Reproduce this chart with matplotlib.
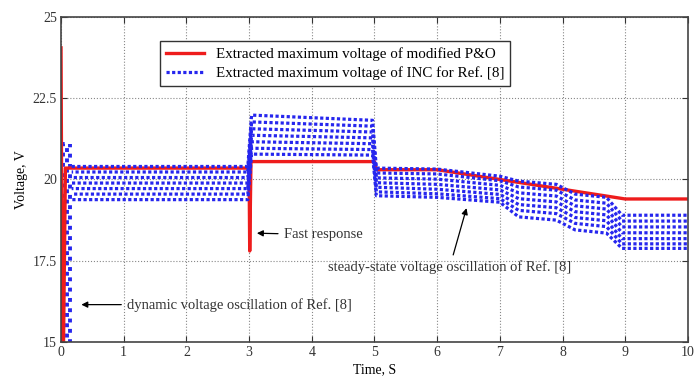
#!/usr/bin/env python3
"""Extracted maximum voltage: modified P&O against INC (Ref. [8])."""

import matplotlib
matplotlib.use("Agg")
import matplotlib.pyplot as plt

# modified P&O trace (time s, voltage V)
po_t = [0.0, 0.02, 0.04, 0.07, 3.0, 3.01, 3.03, 5.0, 5.03, 6.0, 9.0, 10.0]
po_v = [24.05, 15.0, 15.0, 20.35, 20.35, 17.8, 20.55, 20.55, 20.3, 20.3, 19.4, 19.4]

# INC start-up oscillation column
inc_start_t = [0.03, 0.03, 0.09, 0.09, 0.15, 0.15]
inc_start_v = [15.0, 21.1, 21.1, 15.0, 15.0, 21.1]

# INC oscillation envelope: parallel traces through the same time breakpoints
inc_t = [0.17, 2.98, 3.04, 4.97, 5.03, 6.0, 7.0, 7.3, 7.9, 8.2, 8.7, 8.95, 10.0]
inc_traces = [
    [20.40, 20.40, 21.98, 21.82, 20.35, 20.32, 20.10, 19.95, 19.85, 19.55, 19.45, 18.90, 18.90],
    [20.23, 20.23, 21.77, 21.64, 20.20, 20.17, 19.96, 19.77, 19.67, 19.37, 19.27, 18.72, 18.72],
    [20.06, 20.06, 21.56, 21.46, 20.05, 20.01, 19.82, 19.59, 19.49, 19.19, 19.09, 18.54, 18.54],
    [19.89, 19.89, 21.36, 21.28, 19.90, 19.85, 19.68, 19.41, 19.31, 19.01, 18.91, 18.36, 18.36],
    [19.72, 19.72, 21.16, 21.10, 19.76, 19.70, 19.54, 19.23, 19.13, 18.83, 18.73, 18.18, 18.18],
    [19.55, 19.55, 20.96, 20.92, 19.62, 19.56, 19.41, 19.05, 18.95, 18.65, 18.55, 18.02, 18.02],
    [19.38, 19.38, 20.78, 20.75, 19.50, 19.45, 19.30, 18.85, 18.75, 18.45, 18.35, 17.88, 17.88],
]

x_ticks = list(range(0, 11))
y_ticks = [15, 17.5, 20, 22.5, 25]
y_tick_labels = ["15", "17.5", "20", "22.5", "25"]

po_label = "Extracted maximum voltage of modified P&O"
inc_label = "Extracted maximum voltage of INC for Ref. [8]"

plt.rcParams["font.family"] = ["Liberation Serif", "DejaVu Serif"]
plt.rcParams["font.size"] = 10

fig = plt.figure(figsize=(6.95, 3.78), dpi=100)
ax = fig.add_axes([0.0878, 0.0952, 0.902, 0.86])

blue = "#2626ee"
red = "#ee1c1c"

ax.plot(inc_start_t, inc_start_v, color=blue, linestyle=":", linewidth=2.8)
for k, trace in enumerate(inc_traces):
    # stagger the dash phase so the dots do not stack into columns
    ax.plot(inc_t, trace, color=blue, linestyle=(0.55 * k, (1.0, 0.75)), linewidth=2.3,
            label=inc_label if k == 0 else None, zorder=3)
ax.plot(po_t, po_v, color=red, linewidth=2.4, label=po_label, zorder=2)

ax.set_xlim(0, 10)
ax.set_ylim(15, 25)
ax.set_xticks(x_ticks)
ax.set_yticks(y_ticks)
ax.set_yticklabels(y_tick_labels)
ax.tick_params(direction="in", top=True, right=True, length=4, pad=3,
               labelsize=10, colors="#333333")
ax.grid(True, linestyle=":", color="#888888", linewidth=0.8)
for side in ax.spines.values():
    side.set_color("#444444")
    side.set_linewidth(1.2)

ax.set_xlabel("Time, S", fontsize=10, labelpad=3)
ax.set_ylabel("Voltage, V", fontsize=10, labelpad=3)

handles, labels = ax.get_legend_handles_labels()
order = [labels.index(po_label), labels.index(inc_label)]
leg = ax.legend([handles[i] for i in order], [labels[i] for i in order],
                loc="upper left", bbox_to_anchor=(0.158, 0.925), borderaxespad=0,
                fancybox=False, framealpha=1, edgecolor="#333333",
                fontsize=10.8, handlelength=2.5, borderpad=0.4, labelspacing=0.35)
leg.get_frame().set_linewidth(1.0)

arrow = dict(arrowstyle="-|>", color="black", linewidth=0.9, mutation_scale=9)
ax.annotate("Fast response", xy=(3.08, 18.35), xytext=(3.55, 18.3),
            va="center", ha="left", fontsize=10.5, color="#333333", arrowprops=arrow)
ax.annotate("dynamic voltage oscillation of Ref. [8]", xy=(0.28, 16.15), xytext=(1.05, 16.15),
            va="center", ha="left", fontsize=10.5, color="#333333", arrowprops=arrow)
ax.annotate("steady-state voltage oscillation of Ref. [8]", xy=(6.48, 19.2), xytext=(6.2, 17.3),
            va="center", ha="center", fontsize=10.5, color="#333333", arrowprops=arrow)

fig.savefig("out.png", dpi=100)
